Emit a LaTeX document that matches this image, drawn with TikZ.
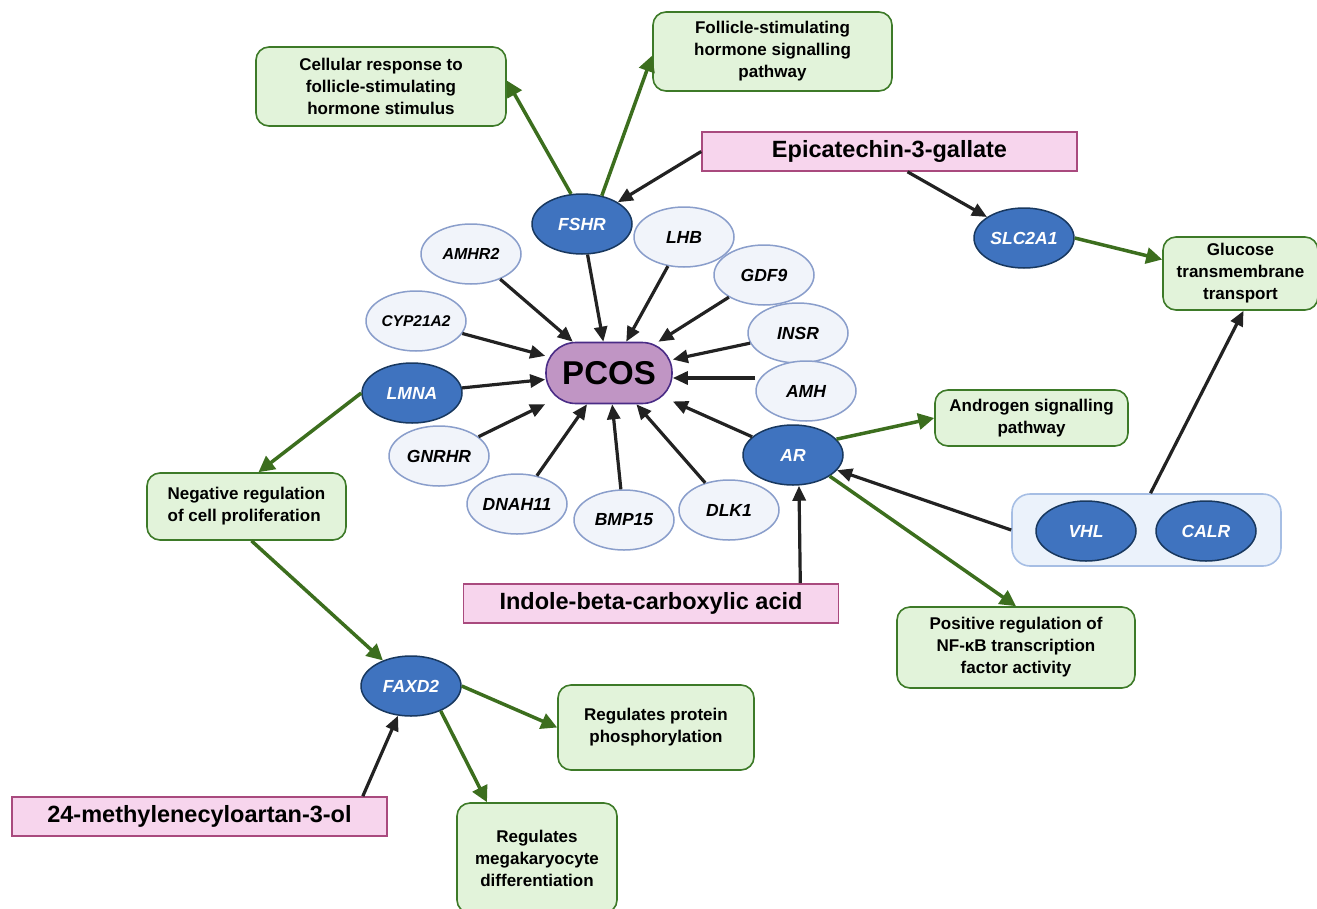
\documentclass[tikz,border=0pt]{standalone}
\usepackage{fontspec}
\setmainfont{Liberation Sans}
\usetikzlibrary{arrows.meta,shapes.geometric}

\definecolor{gfill}{HTML}{E2F3DA}
\definecolor{gdraw}{HTML}{3D7A28}
\definecolor{garrow}{HTML}{3C6E1E}
\definecolor{pfill}{HTML}{F7D5ED}
\definecolor{pdraw}{HTML}{A94A7E}
\definecolor{bfill}{HTML}{3F73BF}
\definecolor{bdraw}{HTML}{18385F}
\definecolor{lfill}{HTML}{F1F4FA}
\definecolor{ldraw}{HTML}{8A9ECB}
\definecolor{hubfill}{HTML}{EBF2FB}
\definecolor{hubdraw}{HTML}{A6BEE4}
\definecolor{pcosfill}{HTML}{C095C4}
\definecolor{pcosdraw}{HTML}{4A2C86}
\definecolor{arrowblk}{HTML}{222222}

\begin{document}
\begin{tikzpicture}[x=1pt,y=-1pt,
  gene/.style={ellipse,draw=ldraw,fill=lfill,line width=1.5pt,minimum width=100pt,
    minimum height=60pt,inner sep=0pt,font=\fontsize{17.5}{20}\selectfont\bfseries\itshape},
  hit/.style={gene,draw=bdraw,fill=bfill,text=white},
  term/.style={draw=gdraw,fill=gfill,line width=1.6pt,rounded corners=13pt,align=center,
    inner sep=0pt,font=\fontsize{17}{22}\selectfont\bfseries},
  drug/.style={draw=pdraw,fill=pfill,line width=1.6pt,minimum width=375pt,minimum height=39pt,
    inner sep=0pt,font=\fontsize{23.5}{26}\selectfont\bfseries},
  blk/.style={draw=arrowblk,line width=3.2pt,-{Triangle[length=15pt,width=13pt]}},
  grn/.style={draw=garrow,line width=3.5pt,-{Triangle[length=16pt,width=16pt]}}]
  \useasboundingbox (0,0) rectangle (1317,908);

  % central node and its genes
  \node[draw=pcosdraw,fill=pcosfill,line width=1.6pt,rounded corners=30pt,minimum width=126pt,
    minimum height=61pt,font=\fontsize{33}{36}\selectfont\bfseries] (pcos) at (609,373) {PCOS};
  \node[hit] (fshr) at (582,224) {FSHR};
  \node[gene,font=\fontsize{16}{20}\selectfont\bfseries\itshape] (amhr2) at (471,254) {AMHR2};
  \node[gene] (lhb) at (684,237) {LHB};
  \node[gene] (gdf9) at (764,275) {GDF9};
  \node[gene,font=\fontsize{15.5}{20}\selectfont\bfseries\itshape] (cyp) at (416,321) {CYP21A2};
  \node[gene] (insr) at (798,333) {INSR};
  \node[gene] (amh) at (806,391) {AMH};
  \node[hit] (lmna) at (412,393) {LMNA};
  \node[gene] (gnrhr) at (439,456) {GNRHR};
  \node[gene] (dnah) at (517,504) {DNAH11};
  \node[gene] (bmp) at (624,520) {BMP15};
  \node[gene] (dlk) at (729,510) {DLK1};
  \node[hit] (ar) at (793,455) {AR};
  \node[hit] (slc) at (1024,238) {SLC2A1};
  \node[hit] (faxd) at (411,686) {FAXD2};

  % VHL and CALR together
  \node[draw=hubdraw,fill=hubfill,line width=1.6pt,rounded corners=18pt,minimum width=269pt,
    minimum height=72pt] (hub) at (1146.5,530) {};
  \node[hit] (vhl) at (1086,531) {VHL};
  \node[hit] (calr) at (1206,531) {CALR};

  % compounds
  \node[drug] (epi) at (889.5,151.5) {Epicatechin-3-gallate};
  \node[drug] (indole) at (651,603.5) {Indole-beta-carboxylic acid};
  \node[drug] (methyl) at (199.5,816.5) {24-methylenecyloartan-3-ol};

  % terms
  \node[term,minimum width=250pt,minimum height=79pt] (cellresp) at (381,86.5)
    {Cellular response to\\follicle-stimulating\\hormone stimulus};
  \node[term,minimum width=239pt,minimum height=79pt] (fshpath) at (772.5,51.5)
    {Follicle-stimulating\\hormone signalling\\pathway};
  \node[term,minimum width=155pt,minimum height=73pt] (glucose) at (1240.5,273.5)
    {Glucose\\transmembrane\\transport};
  \node[term,minimum width=193pt,minimum height=56pt] (andro) at (1031.5,418)
    {Androgen signalling\\pathway};
  \node[term,align=left,minimum width=199pt,minimum height=67pt] (negreg) at (246.5,506.5)
    {Negative regulation\\of cell proliferation};
  \node[term,minimum width=238pt,minimum height=81pt] (nfkb) at (1016,647.5)
    {Positive regulation of\\NF-κB transcription\\factor activity};
  \node[term,minimum width=196pt,minimum height=85pt] (phos) at (656,727.5)
    {Regulates protein\\phosphorylation};
  \node[term,minimum width=160pt,minimum height=110pt] (mega) at (537,858)
    {Regulates\\megakaryocyte\\differentiation};

  % genes into PCOS
  \foreach \g in {fshr,amhr2,lhb,gdf9,cyp,insr,lmna,gnrhr,dnah,bmp,dlk,ar}
    \draw[blk] (\g) -- (pcos);
  \draw[blk] (amh.west |- 0,378) -- (pcos.east |- 0,378);

  % compounds to targets
  \draw[blk] (epi.west) -- (fshr);
  \draw[blk] ([xshift=18pt]epi.south) -- (slc);
  \draw[blk] ([xshift=-39pt]indole.north east) -- ([xshift=6pt]ar.south);
  \draw[blk] ([xshift=-25pt]methyl.north east) -- (faxd);
  \draw[blk] (hub.west) -- (ar);
  \draw[blk] ([xshift=4pt]hub.north) -- ([xshift=3pt]glucose.south);

  % genes to terms
  \draw[grn] (fshr.110) -- ([yshift=6pt]cellresp.east);
  \draw[grn] (fshr.55) -- ([yshift=-4pt]fshpath.west);
  \draw[grn] (slc.east) -- ([yshift=14pt]glucose.west);
  \draw[grn] (lmna.west) -- ([xshift=12pt]negreg.north);
  \draw[grn] ([xshift=5pt]negreg.south) -- (faxd);
  \draw[grn] (faxd.east) -- (phos.west);
  \draw[grn] (faxd.-40) -- ([xshift=-50pt]mega.north);
  \draw[grn] (ar.20) -- (andro.west);
  \draw[grn] (ar.-30) -- (nfkb.north);
\end{tikzpicture}
\end{document}
